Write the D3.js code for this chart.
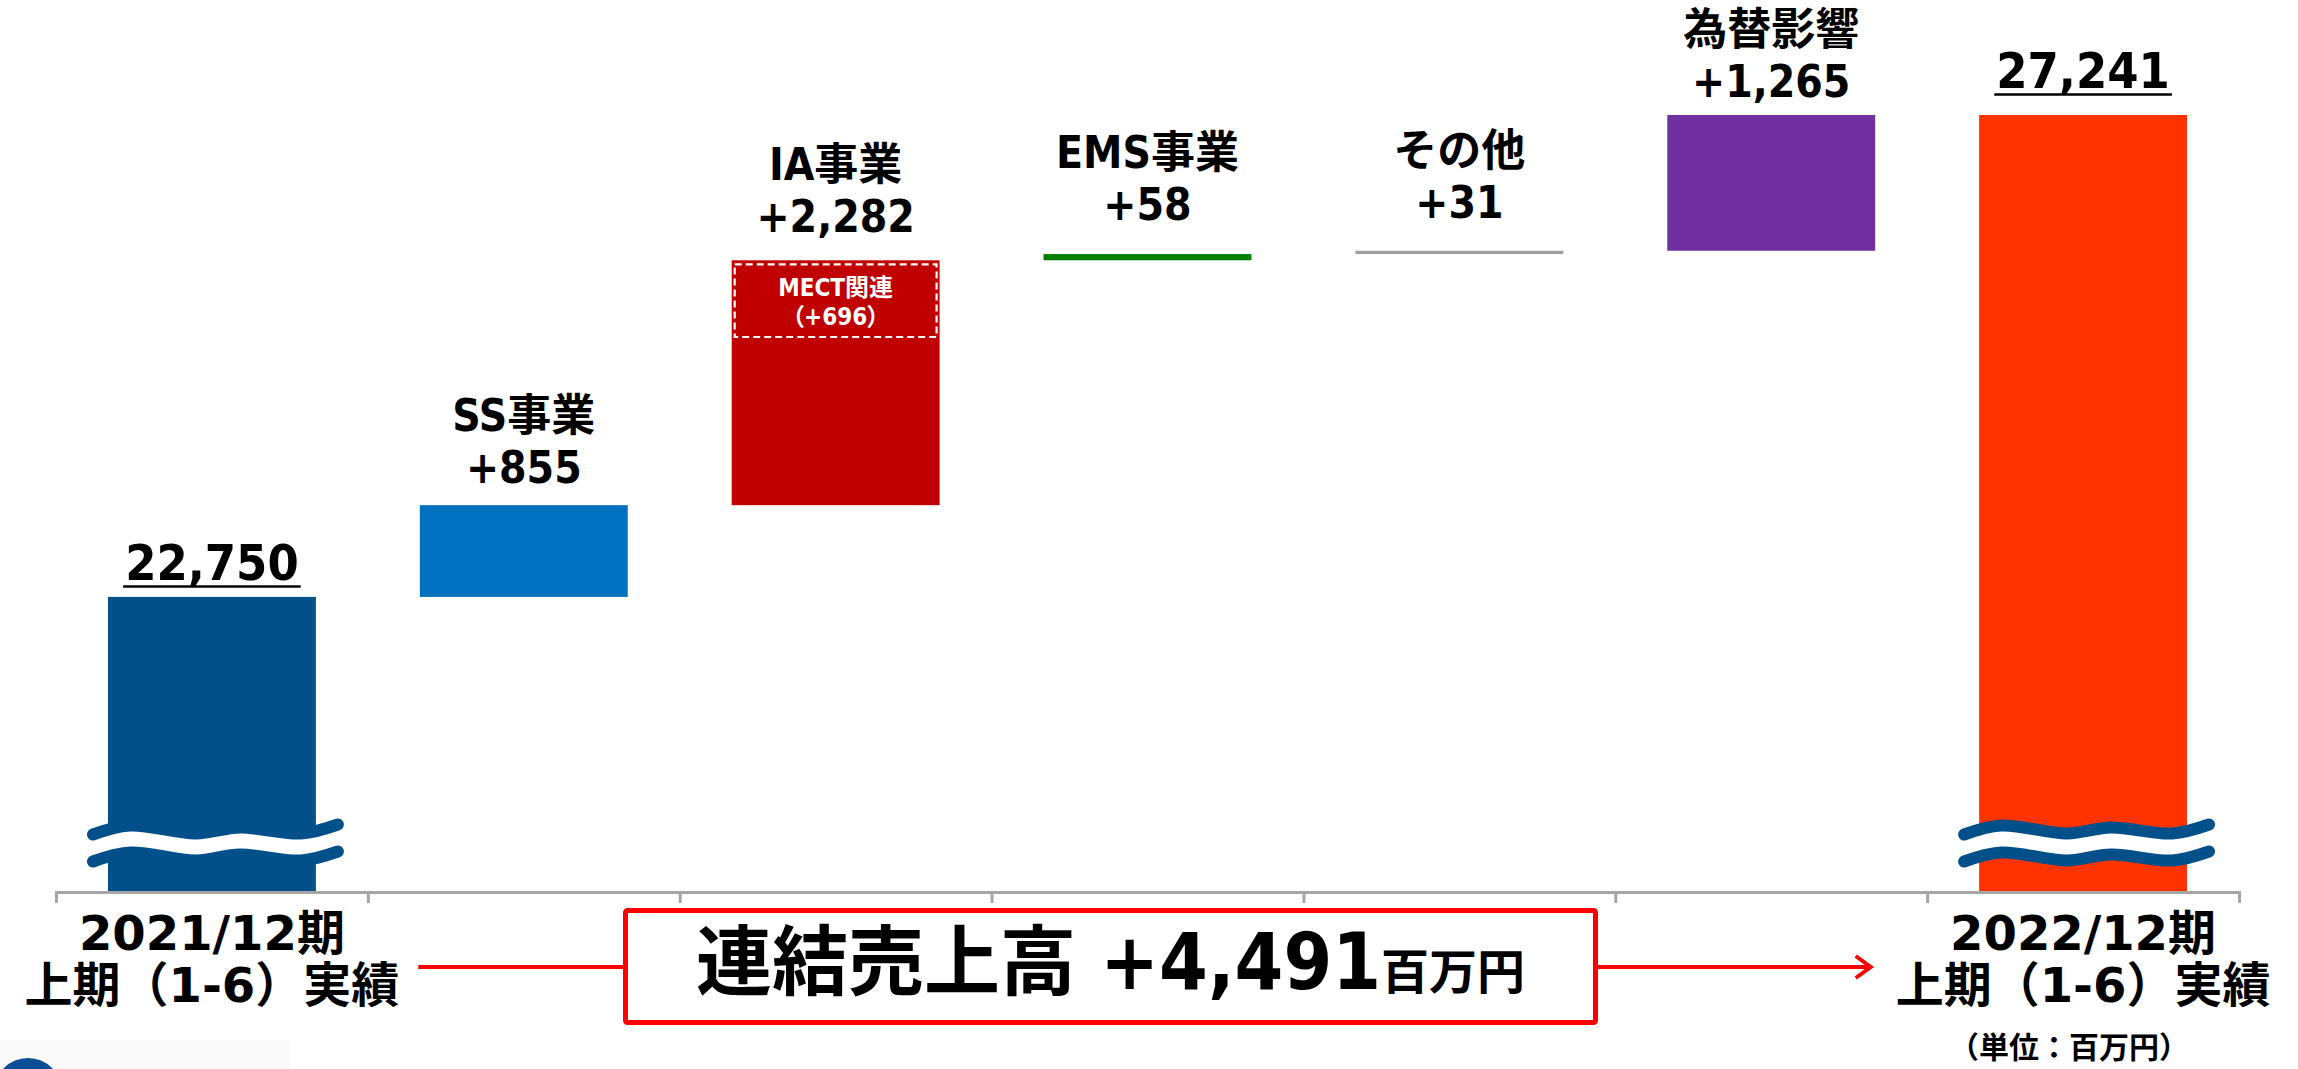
<!DOCTYPE html>
<html><head><meta charset="utf-8">
<script src="https://cdn.jsdelivr.net/npm/d3@7"></script>
<style>
html,body{margin:0;padding:0;background:#fff;overflow:hidden;}
svg{display:block;}
</style></head><body>
<svg id="chart" width="2298" height="1069"></svg>
<script>
// ---------------- data ----------------
const categories = ["2021/12期 上期（1-6）実績","SS事業","IA事業","EMS事業","その他","為替影響","2022/12期 上期（1-6）実績"];
const kinds = ["total","delta","delta","delta","delta","delta","total"];
const values = [22750, 855, 2282, 58, 31, 1265, 27241];
const axisFloor = 20000;           // broken value axis starts here
const breakdownCategory = "IA事業";
const breakdownName = "MECT関連";
const breakdownValue = 696;
const summaryTitle = "連結売上高";
const summaryValue = 4491;
const summaryUnit = "百万円";
const unitNote = "（単位：百万円）";

// ---------------- style ----------------
const colors = ["#02508A","#0070C0","#C00000","#008000","#A0A0A0","#7030A0","#FF3300"];
const labelGap = [17, 22, 28, 34, 33, 18, 27];
const LATIN = "'DejaVu Sans Condensed','DejaVu Sans','Noto Sans CJK JP',sans-serif";
const LATIN_WIDE = "'DejaVu Sans','Noto Sans CJK JP',sans-serif";
const CJK = "'Noto Sans CJK JP','DejaVu Sans',sans-serif";

const svg = d3.select("#chart");
const fmt = d3.format(",");

// running waterfall
let run = 0;
const bars = categories.map((c, i) => {
  if (kinds[i] === "total") { run = values[i]; return {c, i, kind: "total", lo: axisFloor, hi: values[i], v: values[i]}; }
  const b = {c, i, kind: "delta", lo: run, hi: run + values[i], v: values[i]};
  run += values[i];
  return b;
});

const x = d3.scaleBand().domain(categories).range([56, 2239]).paddingInner(1/3).paddingOuter(1/6);
const y = d3.scaleLinear().domain([axisFloor, d3.max(bars, d => d.hi)]).range([892, 115]);

// bars
svg.append("g").selectAll("rect").data(bars).join("rect")
  .attr("x", d => x(d.c)).attr("width", x.bandwidth())
  .attr("y", d => y(d.hi)).attr("height", d => y(d.lo) - y(d.hi))
  .attr("fill", d => colors[d.i]);

// breakdown dashed box inside IA bar
const ia = bars.find(d => d.c === breakdownCategory);
const bxl = x(ia.c) + 3, bxw = x.bandwidth() - 6;
const byt = y(ia.hi) + 4, byb = y(ia.hi - breakdownValue) + 2;
svg.append("rect").attr("x", bxl).attr("y", byt).attr("width", bxw).attr("height", byb - byt)
  .attr("fill", "none").attr("stroke", "#fff").attr("stroke-width", 2.2).attr("stroke-dasharray", "7,4");
const bcx = x(ia.c) + x.bandwidth() / 2;
svg.append("text").attr("x", bcx).attr("y", byt + 32).attr("text-anchor", "middle")
  .attr("font-family", LATIN).attr("font-weight", "bold").attr("font-size", 24).attr("fill", "#fff")
  .text(breakdownName);
svg.append("text").attr("x", bcx).attr("y", byt + 61).attr("text-anchor", "middle")
  .attr("font-family", LATIN).attr("font-weight", "bold").attr("font-size", 24).attr("fill", "#fff")
  .style("font-feature-settings", "'palt'")
  .text("（+" + fmt(breakdownValue) + "）");

// waves (axis break marks) on total bars
const waveShape = [[0, 5], [0.15, -4], [0.42, 4], [0.6, -2], [0.85, 4], [1, -5]];
function wavePath(x0, x1, yc) {
  return d3.line().curve(d3.curveCatmullRom)(waveShape.map(([t, dy]) => [x0 + t * (x1 - x0), yc + dy]));
}
bars.filter(d => d.kind === "total").forEach(d => {
  const x0 = x(d.c) - 15, x1 = x(d.c) + x.bandwidth() + 22, yc = y(axisFloor) - 49;
  svg.append("path").attr("d", wavePath(x0 + 10, x1 - 10, yc)).attr("fill", "none")
    .attr("stroke", "#fff").attr("stroke-width", 22);
  [-13.5, 13.5].forEach(off => {
    svg.append("path").attr("d", wavePath(x0, x1, yc + off)).attr("fill", "none")
      .attr("stroke", "#02508A").attr("stroke-width", 12).attr("stroke-linecap", "round");
  });
});

// axis with boundary ticks
const edges = d3.scaleLinear().domain([0, categories.length]).range(x.range());
svg.append("g").attr("transform", `translate(0,${y(axisFloor)})`)
  .call(d3.axisBottom(edges).tickValues(d3.range(categories.length + 1)).tickSize(11).tickFormat(""))
  .call(g => g.selectAll("path,line").attr("stroke", "#A6A6A6").attr("stroke-width", 3));

// labels above bars
bars.forEach(d => {
  const cx = x(d.c) + x.bandwidth() / 2;
  const base = y(d.hi) - labelGap[d.i];
  if (d.kind === "total") {
    const t = svg.append("text").attr("x", cx).attr("y", base).attr("text-anchor", "middle")
      .attr("font-family", LATIN).attr("font-weight", "bold").attr("font-size", 50).attr("fill", "#000")
      .text(fmt(d.v));
    const w = t.node().getComputedTextLength();
    svg.append("line").attr("x1", cx - w / 2 - 2).attr("x2", cx + w / 2 + 2)
      .attr("y1", base + 6.5).attr("y2", base + 6.5).attr("stroke", "#000").attr("stroke-width", 2.5);
  } else {
    svg.append("text").attr("x", cx).attr("y", base - 52).attr("text-anchor", "middle")
      .attr("font-family", LATIN).attr("font-weight", "bold").attr("font-size", 44).attr("fill", "#000")
      .text(d.c);
    svg.append("text").attr("x", cx).attr("y", base).attr("text-anchor", "middle")
      .attr("font-family", LATIN).attr("font-weight", "bold").attr("font-size", 44).attr("fill", "#000")
      .text("+" + fmt(d.v));
  }
});

// category labels on the axis for totals
const axisLabelNodes = [];
bars.filter(d => d.kind === "total").forEach(d => {
  const cx = x(d.c) + x.bandwidth() / 2;
  const [l1, l2] = d.c.split(" ");
  svg.append("text").attr("x", cx).attr("y", 950).attr("text-anchor", "middle")
    .attr("font-family", LATIN_WIDE).attr("font-weight", "bold").attr("font-size", 48).text(l1);
  const t2 = svg.append("text").attr("x", cx).attr("y", 1002).attr("text-anchor", "middle")
    .attr("font-family", LATIN_WIDE).attr("font-weight", "bold").attr("font-size", 48).text(l2);
  axisLabelNodes.push(t2.node().getBBox());
});

// summary box
const boxL = 623, boxR = 1598, boxT = 908, boxB = 1025, lineY = 967;
const red = "#FF0000";
svg.append("line").attr("x1", axisLabelNodes[0].x + axisLabelNodes[0].width + 19).attr("x2", boxL)
  .attr("y1", lineY).attr("y2", lineY).attr("stroke", red).attr("stroke-width", 4);
const tipX = axisLabelNodes[1].x - 25;
svg.append("line").attr("x1", boxR).attr("x2", tipX)
  .attr("y1", lineY).attr("y2", lineY).attr("stroke", red).attr("stroke-width", 4);
svg.append("path").attr("d", `M${tipX - 15},${lineY - 11}L${tipX},${lineY}L${tipX - 15},${lineY + 11}`)
  .attr("fill", "none").attr("stroke", red).attr("stroke-width", 4);
svg.append("rect").attr("x", boxL + 2.5).attr("y", boxT + 2.5).attr("width", boxR - boxL - 5).attr("height", boxB - boxT - 5)
  .attr("rx", 2).attr("fill", "#fff").attr("stroke", red).attr("stroke-width", 5);
const st = svg.append("text").attr("x", (boxL + boxR) / 2).attr("y", 989).attr("text-anchor", "middle")
  .attr("font-weight", "bold").attr("fill", "#000");
st.append("tspan").attr("font-family", CJK).attr("font-size", 76).text(summaryTitle);
st.append("tspan").attr("font-family", LATIN).attr("font-size", 78).text(" +" + fmt(summaryValue));
st.append("tspan").attr("font-family", CJK).attr("font-size", 48).text(summaryUnit);

// unit note
svg.append("text").attr("x", 2069).attr("y", 1058).attr("text-anchor", "middle")
  .attr("font-family", CJK).attr("font-weight", "bold").attr("font-size", 30).text(unitNote);

// partial logo at bottom-left (cropped in source)
svg.append("rect").attr("x", 0).attr("y", 1040).attr("width", 290).attr("height", 29).attr("fill", "#FAFAFA");
svg.append("circle").attr("cx", 28).attr("cy", 1092).attr("r", 34).attr("fill", "#0B4E97");
</script>
</body></html>
